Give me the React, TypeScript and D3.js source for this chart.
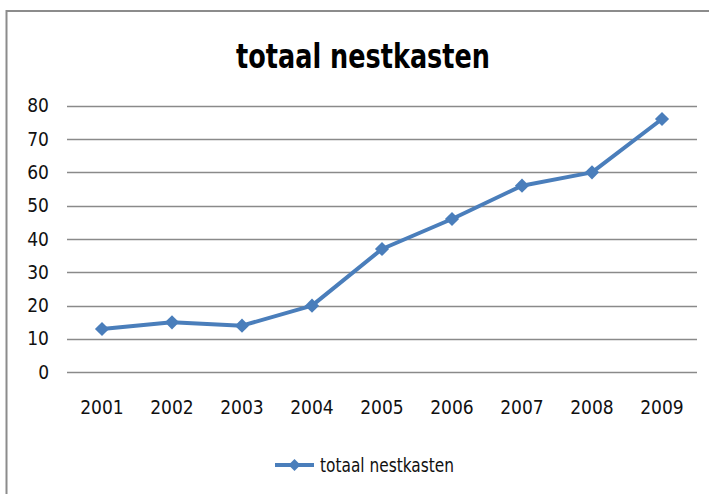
import React from "react";
import * as d3 from "d3";

const years = ["2001", "2002", "2003", "2004", "2005", "2006", "2007", "2008", "2009"];
const values = [13, 15, 14, 20, 37, 46, 56, 60, 76];
const yTicks = [0, 10, 20, 30, 40, 50, 60, 70, 80];
const seriesName = "totaal nestkasten";
const title = "totaal nestkasten";

const FONT = "'Liberation Sans Narrow', 'DejaVu Sans Condensed', 'Open Sans', sans-serif";
const BLUE = "#4a7ebb";

export default function App() {
  const W = 709, H = 494;
  const x = d3.scaleBand<string>().domain(years).range([67, 697]);
  const y = d3.scaleLinear().domain([0, 80]).range([372.3, 105.7]);
  const cx = (d: string) => (x(d) as number) + x.bandwidth() / 2;
  const line = d3.line<number>().x((_, i) => cx(years[i])).y((d) => y(d));
  const diamond = d3.symbol().type(d3.symbolSquare).size(100)();
  const legendDiamond = d3.symbol().type(d3.symbolSquare).size(72)();

  return (
    <svg width={W} height={H} style={{ position: "absolute", left: 0, top: 0, background: "#fff" }}>
      <rect x={6.5} y={11} width={720} height={500} fill="#fff" stroke="#8c8c8c" strokeWidth={2} />
      <text x={363} y={68} textAnchor="middle" fontFamily={FONT} fontWeight="bold" fontSize={33}
        textLength={254} lengthAdjust="spacingAndGlyphs" fill="#000">{title}</text>
      {yTicks.map((t) => (
        <g key={t}>
          <line x1={67} x2={697} y1={Math.round(y(t)) + 0.5} y2={Math.round(y(t)) + 0.5} stroke="#8a8a8a" strokeWidth={1.3} />
          <text x={49} y={y(t) + 6.5} textAnchor="end" fontFamily={FONT} fontSize={19} fill="#111">{t}</text>
        </g>
      ))}
      {years.map((yr) => (
        <text key={yr} x={cx(yr)} y={414} textAnchor="middle" fontFamily={FONT} fontSize={19} fill="#111">{yr}</text>
      ))}
      <path d={line(values) || ""} fill="none" stroke={BLUE} strokeWidth={4} strokeLinejoin="round" />
      {values.map((v, i) => (
        <path key={i} d={diamond || ""} transform={`translate(${cx(years[i])},${y(v)}) rotate(45)`} fill={BLUE} />
      ))}
      <line x1={275} x2={314} y1={465} y2={465} stroke={BLUE} strokeWidth={4} />
      <path d={legendDiamond || ""} transform="translate(294.5,465) rotate(45)" fill={BLUE} />
      <text x={320} y={472} fontFamily={FONT} fontSize={19} fill="#111"
        textLength={134} lengthAdjust="spacingAndGlyphs">{seriesName}</text>
    </svg>
  );
}
